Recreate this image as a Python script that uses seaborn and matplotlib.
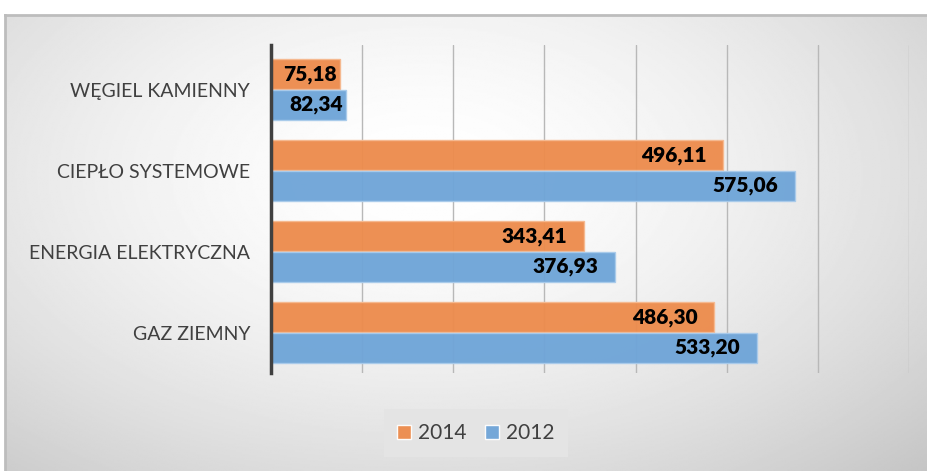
import numpy as np
import pandas as pd
import seaborn as sns
import matplotlib.pyplot as plt

categories = ['WĘGIEL KAMIENNY', 'CIEPŁO SYSTEMOWE', 'ENERGIA ELEKTRYCZNA', 'GAZ ZIEMNY']
values_2014 = [75.18, 496.11, 343.41, 486.30]
values_2012 = [82.34, 575.06, 376.93, 533.20]
years = ['2014', '2012']
colors = {'2014': '#ED8C4D', '2012': '#6FA5D8'}
edge_colors = {'2014': '#F6B990', '2012': '#A9CBEB'}

df = pd.DataFrame({
    'kategoria': categories * 2,
    'rok': ['2014'] * 4 + ['2012'] * 4,
    'wartosc': values_2014 + values_2012,
})

sns.set_style('white')
plt.rcParams['font.family'] = ['Lato', 'DejaVu Sans']

fig = plt.figure(figsize=(9.28, 4.71), dpi=100)

# background panel with soft radial gradient
bg = fig.add_axes([5 / 928, 0, 1, 1 - 15 / 471], zorder=-1)
yy, xx = np.mgrid[0:1:300j, 0:1:600j]
r = np.sqrt(((xx - 0.45) / 0.75) ** 2 + ((yy - 0.35) / 0.9) ** 2)
shade = 1 - 0.22 * np.clip(r, 0, 1.2) ** 1.6
bg.imshow(shade, cmap='gray', vmin=0, vmax=1, aspect='auto', extent=[0, 1, 1, 0])
bg.set_xticks([])
bg.set_yticks([])
for side in ['right', 'bottom']:
    bg.spines[side].set_visible(False)
for side in ['top', 'left']:
    bg.spines[side].set_color('#bdbdbd')
    bg.spines[side].set_linewidth(2)

ax = fig.add_axes([271 / 928, 1 - 373 / 471, (909 - 271) / 928, (373 - 45) / 471])
ax.patch.set_alpha(0)

sns.barplot(data=df, y='kategoria', x='wartosc', hue='rok', hue_order=years,
            order=categories, palette=colors, orient='h', width=0.76, gap=0.04,
            saturation=1, alpha=0.96, ax=ax, zorder=2)

for cont, yr in zip(ax.containers, years):
    for patch in cont:
        patch.set_edgecolor(edge_colors[yr])
        patch.set_linewidth(1)
    labels = [f'{v:.2f}'.replace('.', ',') for v in cont.datavalues]
    anns = ax.bar_label(cont, labels=labels, label_type='edge', fontsize=15,
                        fontweight='heavy', color='black')
    for ann, v in zip(anns, cont.datavalues):
        ann.set_ha('right')
        ann.xyann = (-2 if v < 100 else -12, ann.xyann[1])

ax.set_xlim(0, 700)
ax.set_ylim(3.5, -0.55)
ax.set_xticks(np.arange(0, 701, 100))
ax.xaxis.grid(True, color='#b8b8b8', linewidth=1, zorder=0)
ax.set_axisbelow(True)
ax.tick_params(axis='x', direction='in', length=9, width=1.5, color='#333333',
               labelbottom=False)
ax.tick_params(axis='y', length=0, labelsize=14, labelcolor='#404040', pad=15)
ax.set_xlabel('')
ax.set_ylabel('')
for side in ['top', 'right', 'bottom']:
    ax.spines[side].set_visible(False)
ax.spines['left'].set_color('#404040')
ax.spines['left'].set_linewidth(2.5)

leg = ax.legend(loc='center', bbox_to_anchor=(476 / 928, 1 - 433 / 471),
                bbox_transform=fig.transFigure, ncol=2, frameon=True,
                fontsize=15, handlelength=0.65, handleheight=0.65,
                columnspacing=0.9, handletextpad=0.35, borderpad=0.65)
leg.get_frame().set_facecolor('#e4e4e4')
leg.get_frame().set_edgecolor('none')
leg.get_frame().set_alpha(1)
leg.get_frame().set_boxstyle('square', pad=0)
for t in leg.get_texts():
    t.set_color('#404040')
leg.set_title(None)

fig.savefig('out.png', dpi=100)
